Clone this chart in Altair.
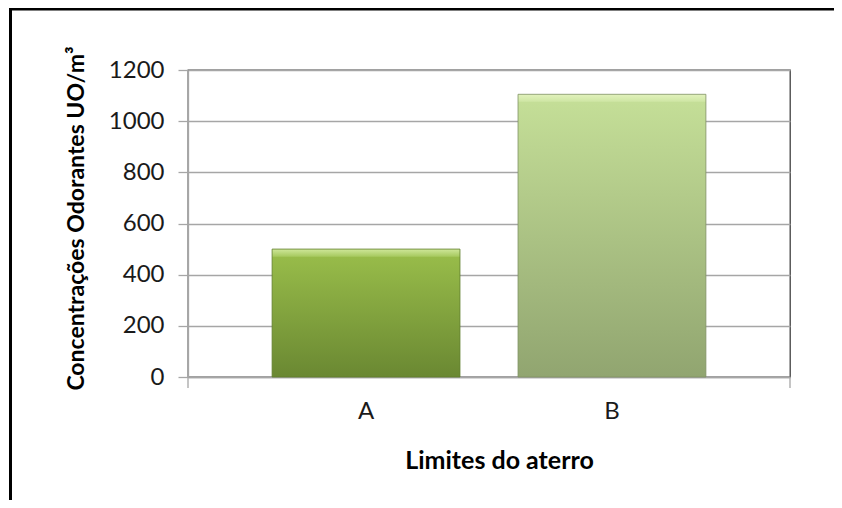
import altair as alt
import pandas as pd

# ---- data ----
categories = ["A", "B"]
values = [500, 1105]
y_ticks = [0, 200, 400, 600, 800, 1000, 1200]

x_title = "Limites do aterro"
y_title = "Concentrações Odorantes UO/m³"

df = pd.DataFrame({"cat": categories, "val": values})
one = pd.DataFrame({"k": [0]})

W, H = 602, 307
FONT = "Lato"

xscale = alt.Scale(domain=categories, paddingInner=0.236, paddingOuter=0.342)
yscale = alt.Scale(domain=[0, 1200], nice=False)

xaxis = alt.Axis(
    title=x_title, labelAngle=0, ticks=False, tickSize=0, grid=False, bandPosition=0.47,
    domainColor="#a6a6a6", domainWidth=1.3,
    labelFont=FONT, labelFontSize=24, labelColor="#1a1a1a", labelPadding=22,
    titleFont=FONT, titleFontSize=25, titleFontWeight="bold", titleColor="#000000",
    titleX=311, titleY=91, titleBaseline="alphabetic", titleAlign="center",
)
yaxis = alt.Axis(
    title=y_title, values=y_ticks, format="d", grid=True, gridColor="#a6a6a6", gridWidth=1.3,
    domainColor="#a6a6a6", domainWidth=1.3, tickColor="#a6a6a6", tickWidth=1.3, tickSize=10,
    labelFont=FONT, labelFontSize=24, labelColor="#1a1a1a", labelPadding=14,
    titleFont=FONT, titleFontSize=23, titleFontWeight="bold", titleColor="#000000",
    titleX=-112, titleY=148, titleAngle=270, titleAlign="center", titleBaseline="middle",
)

grad_a = alt.Gradient(
    gradient="linear", x1=0, y1=0, x2=0, y2=1,
    stops=[
        alt.GradientStop(offset=0, color="#cfe79a"),
        alt.GradientStop(offset=0.055, color="#a9cb62"),
        alt.GradientStop(offset=0.065, color="#97bb49"),
        alt.GradientStop(offset=1, color="#6a8832"),
    ],
)
grad_b = alt.Gradient(
    gradient="linear", x1=0, y1=0, x2=0, y2=1,
    stops=[
        alt.GradientStop(offset=0, color="#e2f2bd"),
        alt.GradientStop(offset=0.024, color="#d0e7a6"),
        alt.GradientStop(offset=0.029, color="#c4de97"),
        alt.GradientStop(offset=1, color="#91a570"),
    ],
)

base = alt.Chart(df)
enc = dict(
    x=alt.X("cat:N", scale=xscale, axis=xaxis),
    y=alt.Y("val:Q", scale=yscale, axis=yaxis),
)

bar_a = base.transform_filter(alt.datum.cat == "A").mark_bar(
    color=grad_a, stroke="#5f7d2c", strokeWidth=1, strokeOpacity=0.8
).encode(**enc)
bar_b = base.transform_filter(alt.datum.cat == "B").mark_bar(
    color=grad_b, stroke="#7f9163", strokeWidth=1, strokeOpacity=0.8
).encode(**enc)

tick_l = alt.Chart(one).mark_rule(color="#a6a6a6", strokeWidth=1.3).encode(
    x=alt.value(0), y=alt.value(H), y2=alt.value(H + 11))
tick_r = alt.Chart(one).mark_rule(color="#a6a6a6", strokeWidth=1.3).encode(
    x=alt.value(W), y=alt.value(H), y2=alt.value(H + 11))

frame_top = alt.Chart(one).mark_rule(color="#000000", strokeWidth=3).encode(
    x=alt.value(-179), x2=alt.value(W + 44), y=alt.value(-61))
frame_left = alt.Chart(one).mark_rule(color="#000000", strokeWidth=3).encode(
    x=alt.value(-177.5), y=alt.value(-62), y2=alt.value(H + 123))

chart = alt.layer(bar_a, bar_b, tick_l, tick_r, frame_top, frame_left).properties(
    width=W, height=H,
    autosize=alt.AutoSizeParams(type="none"),
    padding={"left": 180, "top": 62, "right": 44, "bottom": 123},
    background="#ffffff",
).configure_view(stroke="#404040", strokeWidth=1.3)

chart.save("out.html", embed_options={"renderer": "svg", "actions": False})
